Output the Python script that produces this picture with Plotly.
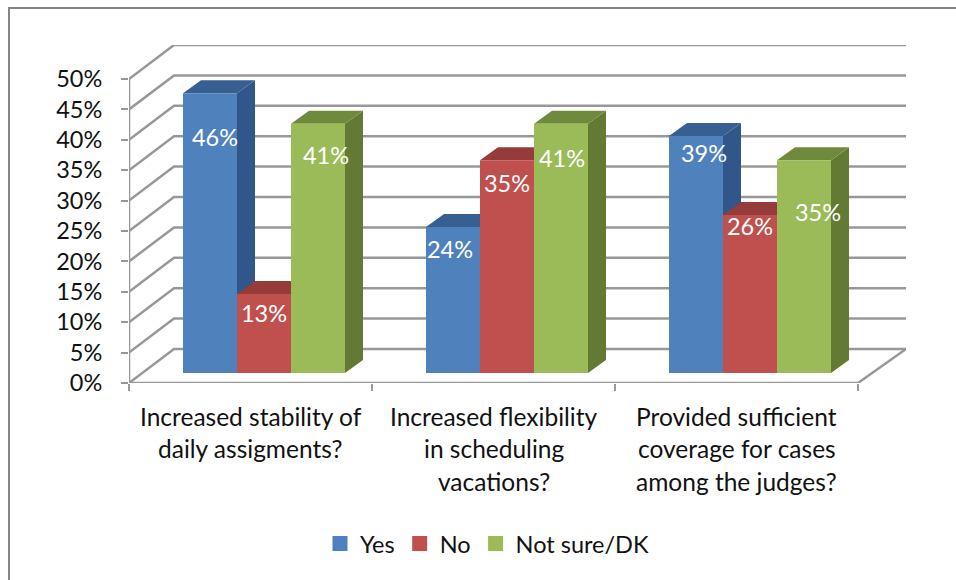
import plotly.graph_objects as go

# ---- data ----
categories = ["Increased stability of<br>daily assigments?",
              "Increased flexibility<br>in scheduling<br>vacations?",
              "Provided sufficient<br>coverage for cases<br>among the judges?"]
series_names = ["Yes", "No", "Not sure/DK"]
yes_values = [46, 24, 39]
no_values = [13, 35, 26]
notsure_values = [41, 41, 35]
y_ticks = [0, 5, 10, 15, 20, 25, 30, 35, 40, 45, 50]

# ---- layout constants (pixels of the 956x580 canvas) ----
W, H = 956, 580
PL, PR, PT, PB = 129, 906, 45, 383      # plot area
CAT_PX = 243.0                          # px per category
VAL_PX = 6.08                           # px per percent
WALL_DX, WALL_DY = 45 / CAT_PX, 34 / VAL_PX   # depth of the walls
WALL_END = (PR - PL) / CAT_PX
BAR_W = 54 / CAT_PX
BAR_BASE = 10 / VAL_PX
BAR_DX, BAR_DY = 18 / CAT_PX, 13 / VAL_PX
FONT = "Lato, Carlito, Calibri, sans-serif"
GRID = "#989898"
front_colors = ["#4F81BD", "#C0504D", "#9BBB59"]
side_colors = ["#30568A", "#8E3A38", "#637A35"]
top_colors = ["#375F91", "#953B39", "#6F8A3D"]
label_px_x = [[215, 450, 704], [264, 507, 750], [326, 562, 818]]
label_px_y = [[140.5, 252.5, 156.5], [316.5, 186.5, 229.5], [158.5, 161.5, 215.5]]
line_px_y = [416, 449, 481]

all_values = [yes_values, no_values, notsure_values]
xrange_ = [0, WALL_END]
yrange_ = [0, (PB - PT) / VAL_PX]

fig = go.Figure()

# walls: gridlines running from the front edge to the back wall
for v in y_ticks:
    fig.add_trace(go.Scatter(
        x=[0, WALL_DX, WALL_END], y=[v, v + WALL_DY, v + WALL_DY],
        mode="lines", line=dict(color=GRID, width=2.5), cliponaxis=False,
        showlegend=False, hoverinfo="skip"))
# floor edges and axis lines
fig.add_trace(go.Scatter(
    x=[0, 0, None, 0, len(categories), WALL_END],
    y=[y_ticks[-1], 0, None, 0, 0, WALL_DY],
    mode="lines", line=dict(color=GRID, width=2.5), cliponaxis=False,
    showlegend=False, hoverinfo="skip"))

# side and top faces of the bars
for j, vals in enumerate(all_values):
    for i, v in enumerate(vals):
        xl = i + BAR_W * (j + 1)
        xr = xl + BAR_W
        top = v + BAR_BASE
        fig.add_trace(go.Scatter(
            x=[xr, xr + BAR_DX, xr + BAR_DX, xr, xr],
            y=[BAR_BASE, BAR_BASE + BAR_DY, top + BAR_DY, top, BAR_BASE],
            mode="lines", fill="toself", fillcolor=side_colors[j],
            line=dict(width=0), showlegend=False, hoverinfo="skip"))
        fig.add_trace(go.Scatter(
            x=[xl, xr, xr + BAR_DX, xl + BAR_DX, xl],
            y=[top, top, top + BAR_DY, top + BAR_DY, top],
            mode="lines", fill="toself", fillcolor=top_colors[j],
            line=dict(width=0), showlegend=False, hoverinfo="skip"))

# front faces, on an overlaid subplot so they cover the faces above
for j, vals in enumerate(all_values):
    fig.add_trace(go.Bar(
        x=[i + BAR_W * (j + 1.5) for i in range(len(categories))],
        y=vals, base=BAR_BASE, width=BAR_W,
        marker=dict(color=front_colors[j], line=dict(width=0)),
        name=series_names[j], showlegend=False, xaxis="x2", yaxis="y2"))

# data labels
for j, vals in enumerate(all_values):
    fig.add_trace(go.Scatter(
        x=[(p - PL) / CAT_PX for p in label_px_x[j]],
        y=[(PB - p) / VAL_PX for p in label_px_y[j]],
        text=[f"{v}%" for v in vals], mode="text",
        textposition="middle center",
        textfont=dict(family=FONT, size=23.5, color="white"),
        showlegend=False, hoverinfo="skip", xaxis="x2", yaxis="y2"))

# legend
for j, name in enumerate(series_names):
    fig.add_trace(go.Scatter(
        x=[None], y=[None], mode="markers", name=name,
        marker=dict(symbol="square", size=15, color=front_colors[j])))

# category labels: one annotation per line for the chart's line pitch
annotations = []
for i, cat in enumerate(categories):
    for k, line in enumerate(cat.split("<br>")):
        annotations.append(dict(
            x=i + 0.5, xref="x", y=(PB - line_px_y[k]) / (PB - PT), yref="paper",
            text=line, showarrow=False, xanchor="center", yanchor="middle",
            font=dict(family=FONT, size=24.5, color="#111111")))

# chart frame: only its top and left edges fall inside the picture
frame_x = lambda p: (p - PL) / (PR - PL)
frame_y = lambda p: (PB - p) / (PB - PT)
frame = [dict(type="line", xref="paper", yref="paper", layer="below",
              x0=frame_x(9), x1=frame_x(9), y0=frame_y(580), y1=frame_y(8),
              line=dict(color="#858585", width=2)),
         dict(type="line", xref="paper", yref="paper", layer="below",
              x0=frame_x(8), x1=frame_x(956), y0=frame_y(8), y1=frame_y(8),
              line=dict(color="#858585", width=2))]

axis_common = dict(showgrid=False, zeroline=False)
fig.update_layout(
    width=W, height=H,
    margin=dict(l=PL, r=W - PR, t=PT, b=H - PB, pad=0),
    paper_bgcolor="white", plot_bgcolor="white",
    font=dict(family=FONT, size=22, color="#111111"),
    showlegend=True,
    legend=dict(orientation="h", x=0.5094, xanchor="center", xref="container",
                y=0.0625, yanchor="middle", yref="container",
                font=dict(family=FONT, size=23.5, color="#111111"),
                bgcolor="rgba(0,0,0,0)"),
    xaxis=dict(range=xrange_, tickmode="array",
               tickvals=list(range(len(categories) + 1)),
               showticklabels=False, ticks="outside", ticklen=7, tickwidth=2,
               tickcolor=GRID, **axis_common),
    yaxis=dict(range=yrange_, tickmode="array", tickvals=y_ticks,
               ticktext=[f"{v}%" for v in y_ticks], ticks="outside",
               ticklen=7, tickwidth=2, tickcolor=GRID, ticklabelstandoff=14,
               tickfont=dict(family=FONT, size=23.5, color="#111111"), **axis_common),
    xaxis2=dict(range=xrange_, overlaying="x", visible=False, **axis_common),
    yaxis2=dict(range=yrange_, overlaying="y", visible=False, **axis_common),
    annotations=annotations,
    shapes=frame,
)

fig.write_html("out.html", config={"displayModeBar": False},
               post_script="document.body.style.margin='0';")
